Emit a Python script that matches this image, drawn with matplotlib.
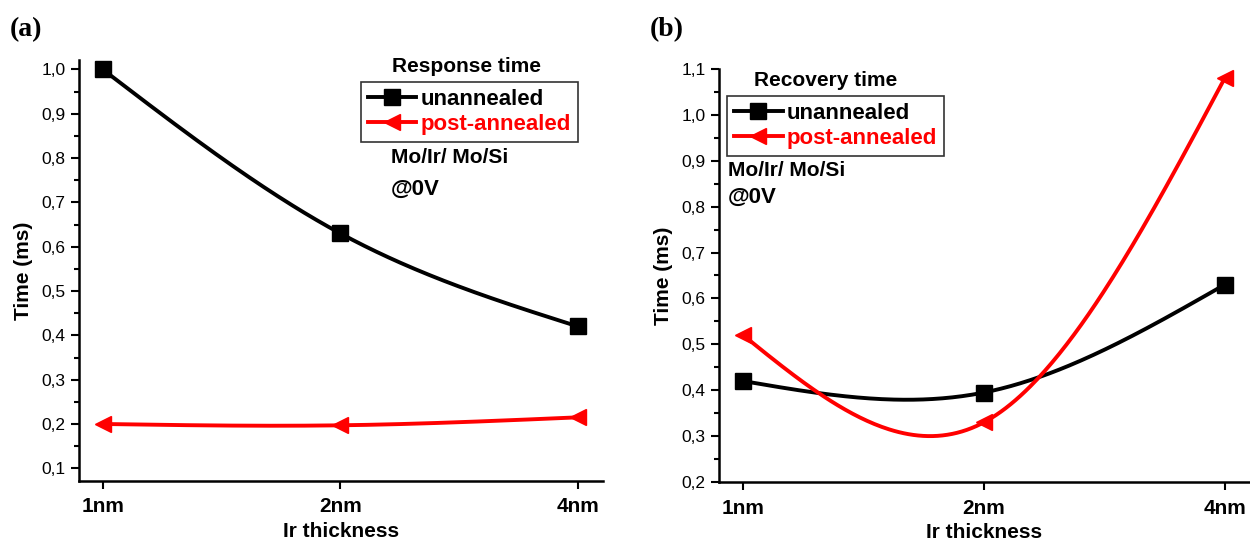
import numpy as np
import matplotlib
matplotlib.use("Agg")
import matplotlib.pyplot as plt
from matplotlib.ticker import FuncFormatter, MultipleLocator, AutoMinorLocator

categories = ["1nm", "2nm", "4nm"]
resp_unannealed = [1.00, 0.63, 0.42]
resp_post = [0.200, 0.197, 0.215]
rec_unannealed = [0.42, 0.395, 0.63]
rec_post = [0.52, 0.33, 1.08]

FONT = ["Liberation Sans", "DejaVu Sans"]
plt.rcParams['font.family'] = FONT

fig = plt.figure(figsize=(12.5, 5.42), dpi=100)
ax1 = fig.add_axes([0.0632, 0.1131, 0.4192, 0.7759])
ax2 = fig.add_axes([0.5752, 0.1107, 0.4248, 0.762])

comma = FuncFormatter(lambda v, p: f"{v:.1f}".replace(".", ","))


def natural_spline(y, npts=100):
    """Natural cubic spline through equally spaced points (line rendering only)."""
    y = np.asarray(y, float)
    n = len(y)
    A = np.zeros((n, n))
    r = np.zeros(n)
    A[0, 0] = A[-1, -1] = 1
    for i in range(1, n - 1):
        A[i, i - 1], A[i, i], A[i, i + 1] = 1, 4, 1
        r[i] = 6 * (y[i + 1] - 2 * y[i] + y[i - 1])
    M = np.linalg.solve(A, r)
    xs, ys = [], []
    for i in range(n - 1):
        t = np.linspace(0, 1, npts)
        s = (y[i] * (1 - t) + y[i + 1] * t
             + M[i] / 6 * ((1 - t) ** 3 - (1 - t)) + M[i + 1] / 6 * (t ** 3 - t))
        xs.append(i + t)
        ys.append(s)
    return np.concatenate(xs), np.concatenate(ys)


def smooth(ax, y, color, marker, label):
    x = np.arange(len(y))
    xs, ys = natural_spline(y)
    ax.plot(xs, ys, color=color, lw=2.8, zorder=2)
    ax.plot(x, y, linestyle="none", marker=marker, color=color, ms=11, zorder=3)
    h, = ax.plot([], [], color=color, lw=2.8, marker=marker, ms=11, label=label)
    return h


def style(ax, ylim, major):
    ax.set_xlim(-0.1, 2.105)
    ax.set_ylim(*ylim)
    ax.set_xticks(range(len(categories)))
    ax.set_xticklabels(categories, fontsize=15, fontweight="bold")
    ax.yaxis.set_major_locator(MultipleLocator(major))
    ax.yaxis.set_minor_locator(AutoMinorLocator(2))
    ax.yaxis.set_major_formatter(comma)
    ax.spines["top"].set_visible(False)
    ax.spines["right"].set_visible(False)
    for s in ["left", "bottom"]:
        ax.spines[s].set_linewidth(1.8)
    ax.tick_params(axis="y", which="major", length=6, width=1.5, labelsize=12.5, colors="black")
    ax.tick_params(axis="y", which="minor", length=3.5, width=1.5)
    ax.tick_params(axis="x", which="major", length=6, width=1.5, pad=6)
    ax.set_xlabel("Ir thickness", fontsize=15, fontweight="bold", labelpad=4)
    ax.set_ylabel("Time (ms)", fontsize=15, fontweight="bold", labelpad=6)


def make_legend(ax, handles, anchor):
    leg = ax.legend(handles=handles, loc="upper left", bbox_to_anchor=anchor,
                    frameon=True, fancybox=False, edgecolor="#333333", framealpha=1,
                    prop={"family": FONT, "weight": "bold", "size": 16},
                    handlelength=2.2, handletextpad=0.2, borderpad=0.3, labelspacing=0.2,
                    borderaxespad=0)
    leg.get_frame().set_linewidth(1.2)
    for t, c in zip(leg.get_texts(), ["black", "red"]):
        t.set_color(c)
    return leg


# Panel (a)
h1 = smooth(ax1, resp_unannealed, "black", "s", "unannealed")
h2 = smooth(ax1, resp_post, "red", "<", "post-annealed")
style(ax1, (0.072, 1.021), 0.1)
make_legend(ax1, [h1, h2], (0.538, 0.948))
ax1.text(0.739, 0.985, "Response time", transform=ax1.transAxes, ha="center", va="center",
         fontsize=15, fontweight="bold")
ax1.text(0.595, 0.769, "Mo/Ir/ Mo/Si", transform=ax1.transAxes, ha="left", va="center",
         fontsize=15, fontweight="bold")
ax1.text(0.595, 0.692, "@0V", transform=ax1.transAxes, ha="left", va="center",
         fontsize=16, fontweight="bold")

# Panel (b)
h3 = smooth(ax2, rec_unannealed, "black", "s", "unannealed")
h4 = smooth(ax2, rec_post, "red", "<", "post-annealed")
style(ax2, (0.2, 1.1), 0.1)
make_legend(ax2, [h3, h4], (0.015, 0.935))
ax2.text(0.2, 0.971, "Recovery time", transform=ax2.transAxes, ha="center", va="center",
         fontsize=15, fontweight="bold")
ax2.text(0.017, 0.755, "Mo/Ir/ Mo/Si", transform=ax2.transAxes, ha="left", va="center",
         fontsize=15, fontweight="bold")
ax2.text(0.017, 0.69, "@0V", transform=ax2.transAxes, ha="left", va="center",
         fontsize=16, fontweight="bold")

fig.text(0.008, 0.945, "(a)", fontsize=20, fontweight="bold", family="Liberation Serif", va="center")
fig.text(0.52, 0.945, "(b)", fontsize=20, fontweight="bold", family="Liberation Serif", va="center")

fig.savefig("out.png", dpi=100)
